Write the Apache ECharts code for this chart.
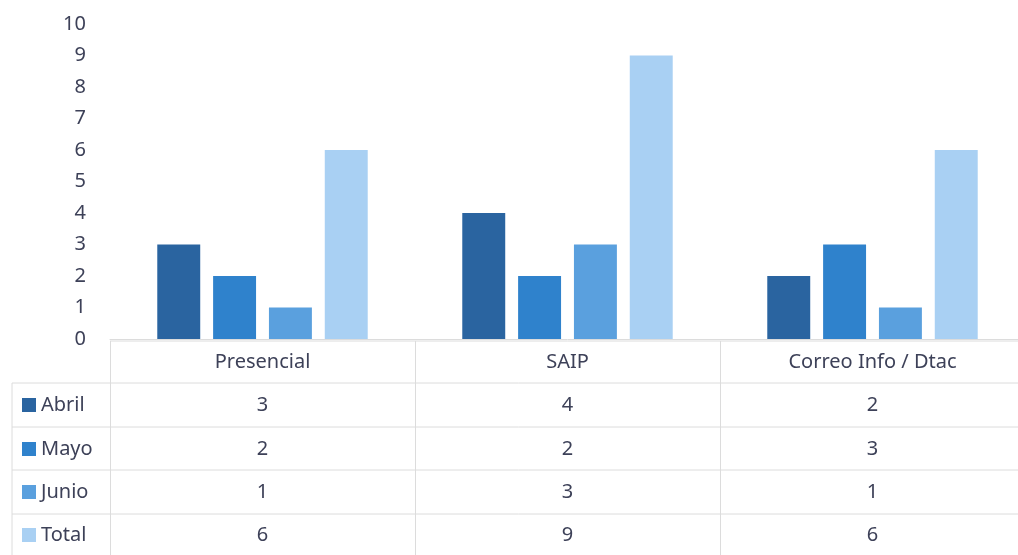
<!DOCTYPE html>
<html><head><meta charset="utf-8">
<script src="https://cdn.jsdelivr.net/npm/echarts@6/dist/echarts.min.js"></script>
<style>html,body{margin:0;padding:0;background:#fff;overflow:hidden;width:1018px;height:555px}#c{width:1025px;height:555px}</style>
</head><body><div id="c"></div>
<script>
const categories = ['Presencial', 'SAIP', 'Correo Info / Dtac'];
const seriesNames = ['Abril', 'Mayo', 'Junio', 'Total'];
const abril = [3, 4, 2];
const mayo = [2, 2, 3];
const junio = [1, 3, 1];
const total = [6, 9, 6];
const yTicks = [0, 1, 2, 3, 4, 5, 6, 7, 8, 9, 10];

const values = [abril, mayo, junio, total];
const colors = ['#2A64A0', '#2F82CC', '#5AA0DE', '#A9D0F3'];
const textColor = '#3d4158';
const font = "'Noto Sans', 'Open Sans', sans-serif";
const gridLeft = 110, gridRight = 0, gridTop = 24, axisY = 339;
const W = 1025, H = 555;
const rowLines = [383, 427, 470, 514];
const rowCenters = [405, 449, 492, 535];
const lineColor = '#dcdcdc';
const fs = 20;

const chart = echarts.init(document.getElementById('c'));
const colW = (W - gridLeft - gridRight) / categories.length;

const graphics = [];
graphics.push({type:'line', shape:{x1:gridLeft, y1:axisY+2, x2:W, y2:axisY+2}, style:{stroke:lineColor, lineWidth:1}});
rowLines.forEach(y => graphics.push({type:'line', shape:{x1:12, y1:y, x2:W, y2:y}, style:{stroke:lineColor, lineWidth:1}}));
graphics.push({type:'line', shape:{x1:12, y1:rowLines[0], x2:12, y2:H}, style:{stroke:lineColor, lineWidth:1}});
for (let i = 0; i < categories.length; i++) {
  const x = Math.round(gridLeft + i * colW) + 0.5;
  graphics.push({type:'line', shape:{x1:x, y1:axisY+2, x2:x, y2:H}, style:{stroke:lineColor, lineWidth:1}});
}
seriesNames.forEach((name, r) => {
  const cy = rowCenters[r];
  graphics.push({type:'rect', shape:{x:22, y:cy-7, width:14, height:14}, style:{fill:colors[r]}});
  graphics.push({type:'text', x:41, y:cy, style:{text:name, fill:textColor, font:fs + 'px ' + font, textVerticalAlign:'middle', verticalAlign:'middle'}});
  values[r].forEach((v, c) => {
    graphics.push({type:'text', x:gridLeft + (c + 0.5) * colW, y:cy, style:{text:String(v), fill:textColor, font:fs + 'px ' + font, textAlign:'center', align:'center', textVerticalAlign:'middle', verticalAlign:'middle'}});
  });
});

chart.setOption({
  animation: false,
  backgroundColor: '#fff',
  grid: {left: gridLeft, right: gridRight, top: gridTop, bottom: H - axisY, containLabel: false},
  xAxis: {
    type: 'category', data: categories,
    axisLine: {show: true, lineStyle: {color: lineColor}},
    axisTick: {show: false},
    axisLabel: {color: textColor, fontSize: fs, fontFamily: font, margin: 13}
  },
  yAxis: {
    type: 'value', min: yTicks[0], max: yTicks[yTicks.length-1], interval: 1,
    axisLine: {show: false}, axisTick: {show: false}, splitLine: {show: false},
    axisLabel: {color: textColor, fontSize: fs, fontFamily: font, margin: 24}
  },
  series: seriesNames.map((n, i) => ({
    name: n, type: 'bar', data: values[i], barGap: '30%', barCategoryGap: '31%',
    itemStyle: {color: colors[i]}
  })),
  graphic: graphics
});
</script></body></html>
